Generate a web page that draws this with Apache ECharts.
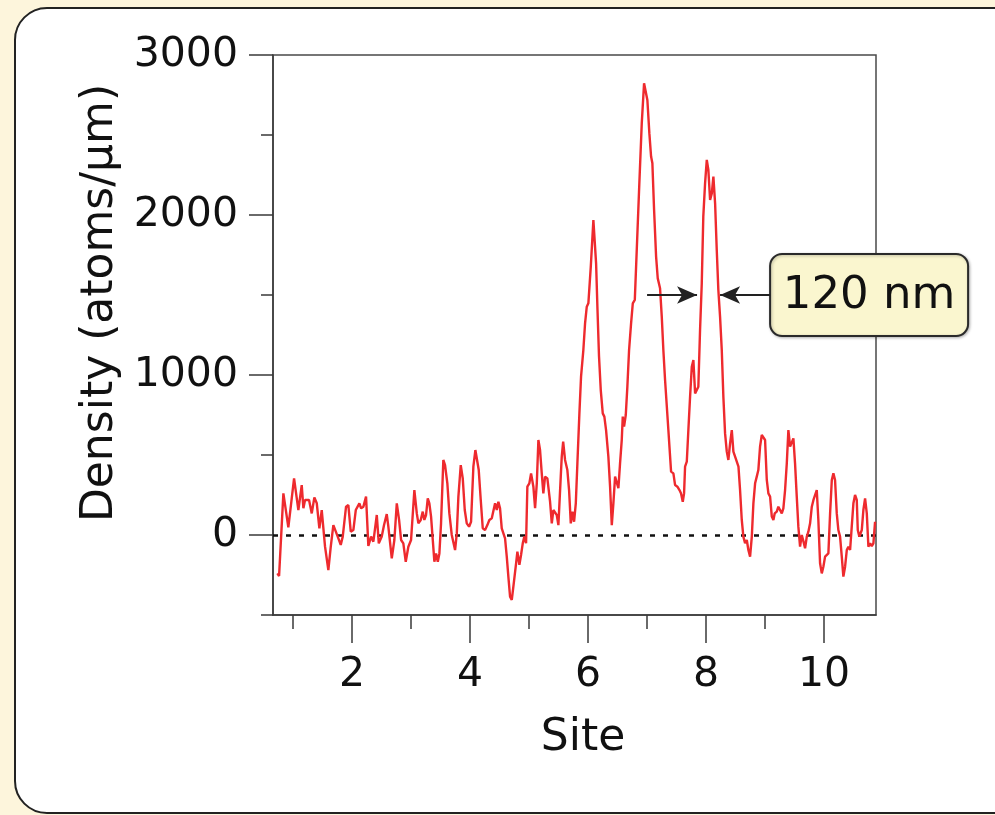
<!DOCTYPE html>
<html>
<head>
<meta charset="utf-8">
<title>Density profile</title>
<script src="https://cdn.jsdelivr.net/npm/echarts@6/dist/echarts.min.js"></script>
<style>
  html, body { margin: 0; padding: 0; background: #fdf5dc; }
  #chart { width: 995px; height: 815px; }
</style>
</head>
<body>
<div id="chart"></div>
<script>
// Measured atom density along the track (site units vs atoms/µm)
const sites = [
  0.734, 0.763, 0.836, 0.920, 0.978, 1.017, 1.046, 1.090, 1.147, 1.175,
  1.203, 1.271, 1.317, 1.361, 1.402, 1.446, 1.486, 1.542, 1.598, 1.639,
  1.683, 1.768, 1.808, 1.842, 1.898, 1.937, 1.978, 2.022, 2.063, 2.124,
  2.153, 2.192, 2.237, 2.276, 2.322, 2.361, 2.419, 2.453, 2.503, 2.542,
  2.588, 2.615, 2.673, 2.717, 2.758, 2.797, 2.831, 2.869, 2.910, 2.954,
  3.000, 3.056, 3.097, 3.124, 3.164, 3.198, 3.225, 3.254, 3.283, 3.310,
  3.339, 3.368, 3.395, 3.424, 3.453, 3.480, 3.508, 3.547, 3.576, 3.615,
  3.649, 3.690, 3.718, 3.746, 3.775, 3.802, 3.842, 3.876, 3.910, 3.944,
  3.983, 4.017, 4.056, 4.090, 4.113, 4.147, 4.181, 4.215, 4.254, 4.293,
  4.327, 4.368, 4.395, 4.424, 4.453, 4.480, 4.508, 4.537, 4.564, 4.593,
  4.622, 4.649, 4.678, 4.707, 4.734, 4.780, 4.802, 4.836, 4.864, 4.893,
  4.920, 4.949, 4.971, 5.005, 5.034, 5.073, 5.102, 5.131, 5.158, 5.186,
  5.215, 5.242, 5.271, 5.310, 5.356, 5.385, 5.412, 5.441, 5.469, 5.497,
  5.537, 5.554, 5.578, 5.610, 5.627, 5.649, 5.678, 5.707, 5.734, 5.763,
  5.792, 5.819, 5.853, 5.881, 5.920, 5.949, 5.978, 6.005, 6.046, 6.090,
  6.107, 6.136, 6.158, 6.185, 6.215, 6.249, 6.276, 6.305, 6.344, 6.373,
  6.402, 6.429, 6.458, 6.486, 6.514, 6.542, 6.571, 6.588, 6.610, 6.639,
  6.666, 6.695, 6.729, 6.758, 6.792, 6.825, 6.869, 6.910, 6.949, 6.978,
  7.005, 7.039, 7.068, 7.090, 7.119, 7.153, 7.181, 7.220, 7.249, 7.276,
  7.305, 7.361, 7.407, 7.446, 7.475, 7.514, 7.549, 7.576, 7.605, 7.627,
  7.644, 7.673, 7.700, 7.729, 7.758, 7.785, 7.814, 7.842, 7.869, 7.898,
  7.927, 7.953, 7.983, 8.012, 8.039, 8.068, 8.097, 8.124, 8.153, 8.181,
  8.208, 8.237, 8.266, 8.293, 8.322, 8.351, 8.378, 8.407, 8.436, 8.463,
  8.492, 8.520, 8.549, 8.576, 8.605, 8.632, 8.661, 8.690, 8.717, 8.746,
  8.775, 8.802, 8.831, 8.859, 8.886, 8.915, 8.944, 8.971, 9.000, 9.029,
  9.056, 9.085, 9.114, 9.141, 9.163, 9.198, 9.225, 9.254, 9.283, 9.310,
  9.339, 9.368, 9.395, 9.424, 9.453, 9.480, 9.508, 9.537, 9.564, 9.593,
  9.622, 9.650, 9.678, 9.707, 9.734, 9.763, 9.792, 9.820, 9.847, 9.876,
  9.903, 9.932, 9.961, 9.988, 10.017, 10.046, 10.073, 10.102, 10.131, 10.158,
  10.186, 10.215, 10.242, 10.271, 10.300, 10.327, 10.356, 10.385, 10.412, 10.441,
  10.469, 10.497, 10.525, 10.554, 10.571, 10.598, 10.639, 10.666, 10.695, 10.724,
  10.751, 10.780, 10.808, 10.836, 10.864
];
const density = [
  -240, -256, 260, 48, 230, 354, 348, 156, 312, 167,
  219, 219, 135, 235, 198, 42, 156, -73, -219, -73,
  62, -21, -62, -10, 177, 187, 21, 31, 156, 198,
  167, 177, 240, -69, -10, -42, 125, -52, -10, 62,
  131, 52, -146, -31, 198, 94, -31, -52, -167, -73,
  -31, 281, 135, 73, 94, 146, 94, 125, 229, 198,
  115, -31, -167, -115, -167, -115, 73, 469, 437, 323,
  135, 0, 0, -94, 10, 240, 437, 354, 156, 73,
  52, 83, 427, 531, 521, 406, 219, 42, 31, 62,
  94, 104, 94, 198, 156, 208, 167, 42, 31, -21,
  -135, -260, -385, -406, -323, -177, -104, -187, -125, -52,
  -10, -52, 302, 323, 385, 302, 167, 323, 594, 531,
  385, 260, 365, 354, 208, 73, 156, 146, 125, 62,
  365, 490, 583, 469, 479, 406, 281, 73, 146, 83,
  198, 448, 760, 990, 1156, 1323, 1427, 1448, 1677, 1969,
  1969, 1698, 1427, 1120, 906, 760, 740, 656, 490, 302,
  62, 198, 365, 375, 292, 448, 594, 740, 677, 750,
  927, 1156, 1323, 1448, 1469, 1781, 2198, 2573, 2823, 2833,
  2719, 2510, 2365, 2323, 2031, 1740, 1604, 1542, 1365, 1156,
  969, 656, 396, 385, 312, 302, 281, 260, 208, 260,
  427, 458, 656, 865, 1052, 1094, 885, 875, 927, 1281,
  1573, 1990, 2198, 2344, 2281, 2094, 2135, 2240, 2073, 1781,
  1531, 1365, 1156, 865, 635, 521, 469, 573, 656, 521,
  490, 500, 427, 281, 94, -10, -52, -31, -94, -135,
  -10, 198, 323, 365, 406, 552, 625, 635, 594, 344,
  260, 240, 115, 94, 135, 146, 177, 187, 135, 167,
  281, 448, 656, 552, 542, 604, 448, 240, 52, -73,
  0, -40, -83, -10, 21, 73, 177, 219, 229, 281,
  94, -177, -240, -198, -135, -135, -115, 135, 344, 385,
  344, 135, 31, -10, -135, -260, -198, -94, -73, -94,
  52, 198, 250, 219, 31, -10, 31, 156, 229, 135,
  -73, -52, -70, -52, 83
];

// Axis ticks
const xMajorTicks = [2, 4, 6, 8, 10];
const xMinorTicks = [1, 3, 5, 7, 9];
const yMajorTicks = [0, 1000, 2000, 3000];
const yMinorTicks = [-500, 500, 1500, 2500];

// Width annotation of the third peak
const widthLabel = '120 nm';
const arrowLevel = 1500;
const leftArrow = [7.0, 7.847];
const rightArrow = [9.085, 8.237];
const calloutAt = [10.763, 1500];

const FONT = '"DejaVu Sans", sans-serif';
const INK = '#111';
const AXIS = '#3a3a3a';

const xRange = { min: 0.66, max: 10.88 };
const yRange = { min: -500, max: 3000 };

const chart = echarts.init(document.getElementById('chart'), null, { renderer: 'canvas' });

const baseX = {
  type: 'value', gridIndex: 0, position: 'bottom', min: xRange.min, max: xRange.max,
  splitLine: { show: false }
};
const baseY = {
  type: 'value', gridIndex: 0, position: 'left', min: yRange.min, max: yRange.max,
  splitLine: { show: false }
};

chart.setOption({
  animation: false,
  backgroundColor: '#fdf5dc',
  grid: {
    left: 273, top: 55, width: 603, height: 560,
    show: true, borderColor: '#4a4a4a', borderWidth: 1.5, backgroundColor: 'transparent'
  },
  xAxis: [
    Object.assign({}, baseX, {
      name: 'Site', nameLocation: 'middle', nameGap: 102,
      nameTextStyle: { fontFamily: FONT, fontSize: 44, color: INK, padding: [0, 0, 0, 17] },
      axisLine: { show: true, onZero: false, lineStyle: { color: AXIS, width: 1.5 } },
      axisTick: { show: true, length: 28, customValues: xMajorTicks, lineStyle: { color: AXIS, width: 1.5 } },
      axisLabel: { show: true, customValues: xMajorTicks, margin: 40, fontFamily: FONT, fontSize: 41, color: INK }
    }),
    Object.assign({}, baseX, {
      axisLine: { show: false, onZero: false },
      axisTick: { show: true, length: 14, customValues: xMinorTicks, lineStyle: { color: AXIS, width: 1.5 } },
      axisLabel: { show: false }
    })
  ],
  yAxis: [
    Object.assign({}, baseY, {
      name: 'Density (atoms/µm)', nameLocation: 'middle', nameGap: 150,
      nameTextStyle: { fontFamily: FONT, fontSize: 44, color: INK, padding: [0, 0, 0, 64] },
      axisLine: { show: true, onZero: false, lineStyle: { color: AXIS, width: 1.5 } },
      axisTick: { show: true, length: 24, customValues: yMajorTicks, lineStyle: { color: AXIS, width: 1.5 } },
      axisLabel: { show: true, customValues: yMajorTicks, margin: 35, fontFamily: FONT, fontSize: 41, color: INK,
                   formatter: v => String(v) }
    }),
    Object.assign({}, baseY, {
      axisLine: { show: false, onZero: false },
      axisTick: { show: true, length: 12, customValues: yMinorTicks, lineStyle: { color: AXIS, width: 1.5 } },
      axisLabel: { show: false }
    })
  ],
  series: [
    {
      name: 'density',
      type: 'line',
      xAxisIndex: 0, yAxisIndex: 0,
      data: sites.map((s, i) => [s, density[i]]),
      showSymbol: false,
      symbol: 'none',
      lineStyle: { color: '#ee2a2e', width: 2.4 },
      z: 3,
      markLine: {
        silent: true,
        symbol: 'none',
        label: { show: false },
        lineStyle: { color: '#111', type: [5, 8], width: 2.5 },
        data: [{ yAxis: 0 }],
        z: 2
      }
    },
    {
      name: 'width',
      type: 'line',
      xAxisIndex: 0, yAxisIndex: 0,
      data: [],
      markLine: {
        silent: true,
        label: { show: false },
        lineStyle: { color: '#222', type: 'solid', width: 2 },
        symbol: ['none', 'arrow'],
        symbolSize: [13, 20],
        data: [
          [{ coord: [leftArrow[0], arrowLevel] }, { coord: [leftArrow[1], arrowLevel] }],
          [{ coord: [rightArrow[0], arrowLevel] }, { coord: [rightArrow[1], arrowLevel] }]
        ],
        z: 4
      }
    }
  ]
});

// Outer panel and the width callout box
const c = chart.convertToPixel({ xAxisIndex: 0, yAxisIndex: 0 }, calloutAt);
chart.setOption({
  graphic: [
    {
      type: 'rect', z: -10, silent: true,
      shape: { x: 15, y: 8, width: 1010, height: 805, r: 32 },
      style: { fill: '#ffffff', stroke: '#222', lineWidth: 2 }
    },
    {
      type: 'group', z: 100, x: c[0], y: c[1],
      children: [
        {
          type: 'rect', silent: true,
          shape: { x: -99, y: -41, width: 198, height: 82, r: 12 },
          style: { fill: '#faf6cf', stroke: '#2a2a2a', lineWidth: 2,
                   shadowBlur: 3, shadowColor: 'rgba(0,0,0,0.25)', shadowOffsetX: 1, shadowOffsetY: 1 }
        },
        {
          type: 'text', silent: true,
          style: { text: widthLabel, x: 0, y: 1, align: 'center', verticalAlign: 'middle',
                   fontFamily: FONT, fontSize: 45, fill: INK }
        }
      ]
    }
  ]
});
</script>
</body>
</html>
